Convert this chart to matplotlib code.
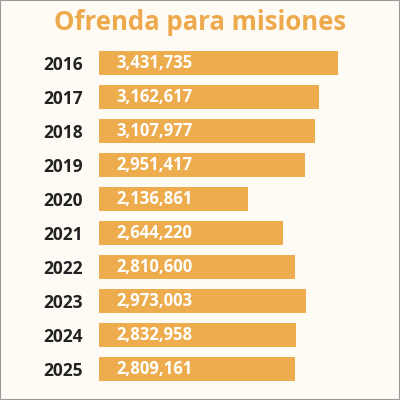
import matplotlib.pyplot as plt
from matplotlib.patches import Rectangle

# data
years = ["2016", "2017", "2018", "2019", "2020", "2021", "2022", "2023", "2024", "2025"]
ofrenda = [3431735, 3162617, 3107977, 2951417, 2136861, 2644220, 2810600, 2973003, 2832958, 2809161]

bg = "#fefbf5"
orange = "#edac4e"

plt.rcParams['font.family'] = ['Open Sans', 'DejaVu Sans']

fig = plt.figure(figsize=(4, 4), dpi=100)
fig.patch.set_facecolor(bg)
fig.patches.append(Rectangle((0, 0), 1, 1, transform=fig.transFigure,
                             fill=False, edgecolor="#9a9a9a", linewidth=1.5))

# axes placed so that zero sits at x=99px and rows span 46..386px
ax = fig.add_axes([99 / 400, 14 / 400, 239 / 400, 340 / 400])
ax.set_facecolor(bg)
pos = list(range(len(years)))
ax.barh(pos, ofrenda, height=0.68, color=orange, edgecolor="none")
ax.set_xlim(0, ofrenda[0])
ax.set_ylim(len(years) - 0.5, -0.5)

for p, v in zip(pos, ofrenda):
    ax.annotate(f"{v:,}", (0, p), xytext=(12.5, 0), textcoords="offset points",
                ha="left", va="center", color="white", fontsize=12, fontweight="bold")

ax.set_yticks(pos)
ax.set_yticklabels(years, fontsize=12.5, fontweight="bold", color="#222222")
ax.tick_params(axis="y", length=0, pad=11.5)
ax.set_xticks([])
for s in ax.spines.values():
    s.set_visible(False)

fig.text(0.5, 1 - 22 / 400, "Ofrenda para misiones", ha="center", va="center",
         color="#eda94c", fontsize=18.5, fontweight="bold")

fig.savefig("out.png", dpi=100, facecolor=bg)
